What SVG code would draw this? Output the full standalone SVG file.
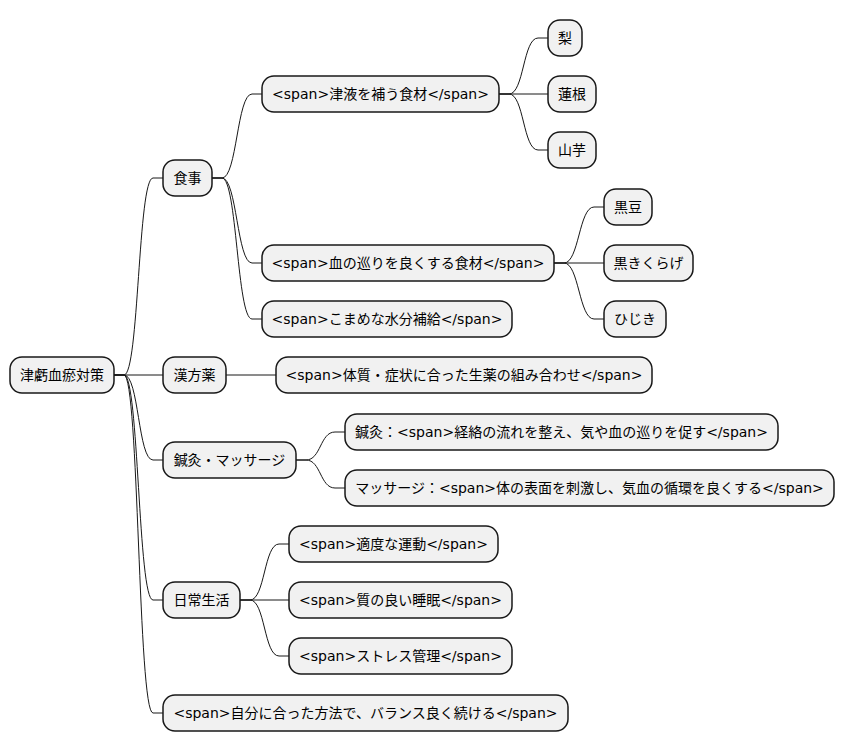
<svg xmlns="http://www.w3.org/2000/svg" width="845" height="752" viewBox="0 0 845 752">
<style>
.n rect{fill:#F1F1F1;stroke:#181818;stroke-width:1.5}
.n text{font-family:"DejaVu Sans","Noto Sans CJK JP",sans-serif;font-size:14px;fill:#000;text-anchor:middle}
#edges path{fill:none;stroke:#181818;stroke-width:1}
</style>
<rect width="845" height="752" fill="#FFFFFF"/>
<g id="edges">
<path d="M114,375 L124,375 C139,375 138,178 153,178 L163,178"/>
<path d="M114,375 L163,375"/>
<path d="M114,375 L124,375 C139,375 138,460 153,460 L163,460"/>
<path d="M114,375 L124,375 C139,375 138,600 153,600 L163,600"/>
<path d="M114,375 L124,375 C139,375 138,713 153,713 L163,713"/>
<path d="M212,178 L222,178 C237,178 237,94 252,94 L262,94"/>
<path d="M212,178 L222,178 C237,178 237,263 252,263 L262,263"/>
<path d="M212,178 L222,178 C237,178 237,319 252,319 L262,319"/>
<path d="M499,94 L509,94 C524,94 523,38 538,38 L548,38"/>
<path d="M499,94 L548,94"/>
<path d="M499,94 L509,94 C524,94 523,150 538,150 L548,150"/>
<path d="M554,263 L564,263 C579,263 579,207 594,207 L604,207"/>
<path d="M554,263 L604,263"/>
<path d="M554,263 L564,263 C579,263 579,319 594,319 L604,319"/>
<path d="M226,375 L276,375"/>
<path d="M296,460 L306,460 C321,460 320,432 335,432 L345,432"/>
<path d="M296,460 L306,460 C321,460 320,488 335,488 L345,488"/>
<path d="M240,600 L250,600 C265,600 264,544 279,544 L289,544"/>
<path d="M240,600 L289,600"/>
<path d="M240,600 L250,600 C265,600 264,656 279,656 L289,656"/>
</g>
<g id="root" class="n"><rect x="10" y="357" width="104" height="36" rx="12"/><text x="62" y="380">津虧血瘀対策</text></g>
<g id="diet" class="n"><rect x="163" y="160" width="49" height="36" rx="12"/><text x="187.5" y="183">食事</text></g>
<g id="diet1" class="n"><rect x="262" y="76" width="237" height="36" rx="12"/><text x="380.5" y="99">&lt;span&gt;津液を補う食材&lt;/span&gt;</text></g>
<g id="pear" class="n"><rect x="548" y="20" width="34" height="36" rx="12"/><text x="565" y="43">梨</text></g>
<g id="lotus" class="n"><rect x="548" y="76" width="48" height="36" rx="12"/><text x="572" y="99">蓮根</text></g>
<g id="yam" class="n"><rect x="548" y="132" width="48" height="36" rx="12"/><text x="572" y="155">山芋</text></g>
<g id="diet2" class="n"><rect x="262" y="245" width="292" height="36" rx="12"/><text x="408" y="268">&lt;span&gt;血の巡りを良くする食材&lt;/span&gt;</text></g>
<g id="bean" class="n"><rect x="604" y="189" width="48" height="36" rx="12"/><text x="628" y="212">黒豆</text></g>
<g id="kikurage" class="n"><rect x="604" y="245" width="89" height="36" rx="12"/><text x="648.5" y="268">黒きくらげ</text></g>
<g id="hijiki" class="n"><rect x="604" y="301" width="62" height="36" rx="12"/><text x="635" y="324">ひじき</text></g>
<g id="diet3" class="n"><rect x="262" y="301" width="250" height="36" rx="12"/><text x="387" y="324">&lt;span&gt;こまめな水分補給&lt;/span&gt;</text></g>
<g id="kampo" class="n"><rect x="163" y="357" width="63" height="36" rx="12"/><text x="194.5" y="380">漢方薬</text></g>
<g id="kampo1" class="n"><rect x="276" y="357" width="376" height="36" rx="12"/><text x="464" y="380">&lt;span&gt;体質・症状に合った生薬の組み合わせ&lt;/span&gt;</text></g>
<g id="acu" class="n"><rect x="163" y="442" width="133" height="36" rx="12"/><text x="229.5" y="465">鍼灸・マッサージ</text></g>
<g id="acu1" class="n"><rect x="345" y="414" width="433" height="36" rx="12"/><text x="561.5" y="437">鍼灸：&lt;span&gt;経絡の流れを整え、気や血の巡りを促す&lt;/span&gt;</text></g>
<g id="acu2" class="n"><rect x="345" y="470" width="489" height="36" rx="12"/><text x="589.5" y="493">マッサージ：&lt;span&gt;体の表面を刺激し、気血の循環を良くする&lt;/span&gt;</text></g>
<g id="life" class="n"><rect x="163" y="582" width="77" height="36" rx="12"/><text x="201.5" y="605">日常生活</text></g>
<g id="life1" class="n"><rect x="289" y="526" width="209" height="36" rx="12"/><text x="393.5" y="549">&lt;span&gt;適度な運動&lt;/span&gt;</text></g>
<g id="life2" class="n"><rect x="289" y="582" width="223" height="36" rx="12"/><text x="400.5" y="605">&lt;span&gt;質の良い睡眠&lt;/span&gt;</text></g>
<g id="life3" class="n"><rect x="289" y="638" width="223" height="36" rx="12"/><text x="400.5" y="661">&lt;span&gt;ストレス管理&lt;/span&gt;</text></g>
<g id="balance" class="n"><rect x="163" y="695" width="405" height="36" rx="12"/><text x="365.5" y="718">&lt;span&gt;自分に合った方法で、バランス良く続ける&lt;/span&gt;</text></g>
</svg>
